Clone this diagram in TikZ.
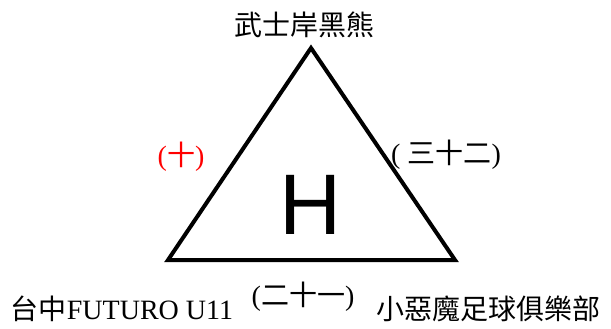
\documentclass[tikz,border=0pt]{standalone}
\usepackage{fontspec}
\setmainfont{Liberation Serif}
\newfontfamily\cjk{Noto Sans CJK TC}
\newfontfamily\hsans{Liberation Sans}
\begin{document}
\begin{tikzpicture}[x=1pt,y=-1pt,
  lbl/.style={inner sep=0pt,font=\fontsize{28}{28}\selectfont},
  edge/.style={line width=4pt,line join=miter}]
\useasboundingbox (0,0) rectangle (611,329);
\coordinate (A) at (311,48);
\coordinate (B) at (168,260);
\coordinate (C) at (455,260);
\draw[edge] (A) -- (B) -- (C) -- cycle;
\node[inner sep=0pt,font=\hsans\fontsize{86}{86}\selectfont] (h) at (311,205) {H};
\node[lbl] (top) at (304,25) {\cjk 武士岸黑熊};
\node[lbl,red] (ab) at (181,157) {(\cjk 十\rmfamily)};
\node[lbl] (ac) at (446,155) {( \cjk 三十二\rmfamily)};
\node[lbl] (bc) at (303,297) {(\cjk 二十一\rmfamily)};
\node[lbl] (lb) at (122,309) {\cjk 台中\rmfamily FUTURO U11};
\node[lbl] (rb) at (488,309) {\cjk 小惡魔足球俱樂部};
\end{tikzpicture}
\end{document}
